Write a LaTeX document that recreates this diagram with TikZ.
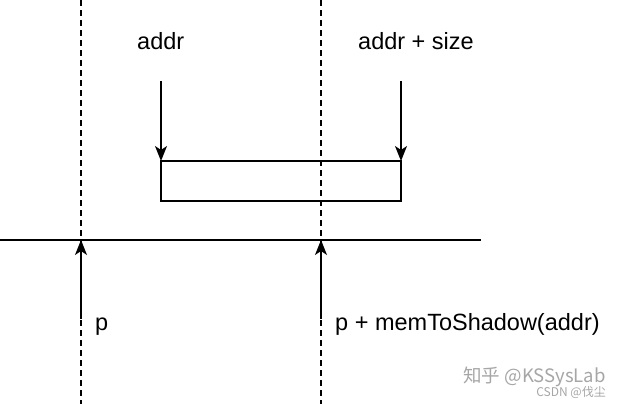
\documentclass[tikz,border=0pt]{standalone}
\usepackage{fontspec}
\setmainfont{Liberation Sans}
\newfontfamily\cjkfont{Noto Sans CJK SC}
\usetikzlibrary{arrows.meta, positioning}

\begin{document}
\begin{tikzpicture}[x=1pt, y=-1pt,
  guide/.style={dash pattern=on 6pt off 4pt, line width=1.6pt},
  ptr/.style={-{Stealth[length=15pt, width=12pt, inset=4pt]}, line width=1.6pt},
  lbl/.style={font=\fontsize{23.5}{28}\selectfont, inner sep=0pt, anchor=base west}]

\useasboundingbox (0,0) rectangle (622,404);

% lignes pointillées
\coordinate (gLtop) at (81,0);
\coordinate (gLbot) at (81,404);
\coordinate (gRtop) at (321,0);
\coordinate (gRbot) at (321,404);
\draw[guide] (gLtop) -- (gLbot);
\draw[guide] (gRtop) -- (gRbot);

% zone mémoire
\node[draw, line width=1.6pt, minimum width=240pt, minimum height=40pt, inner sep=0pt, outer sep=0pt, anchor=north west] (range) at (161,161) {};

% ligne de l'ombre
\coordinate (shL) at (0,240);
\coordinate (shR) at (481,240);
\draw[line width=1.6pt] (shL) -- (shR);

% étiquettes
\node[lbl] (addr) at (137,50) {addr};
\node[lbl] (addrsz) at (358,50) {addr + size};
\node[lbl] (p) at (95,330) {p};
\node[lbl] (pshadow) at (335,330) {p + memToShadow(addr)};

% flèches
\coordinate (addrStart) at (161,81);
\coordinate (addrszStart) at (401,81);
\coordinate (pStart) at (81,319);
\coordinate (pEnd) at (81,240);
\coordinate (psStart) at (321,319);
\coordinate (psEnd) at (321,240);
\draw[ptr] (addrStart) -- (range.north west);
\draw[ptr] (addrszStart) -- (range.north east);
\draw[ptr] (pStart) -- (pEnd);
\draw[ptr] (psStart) -- (psEnd);

% filigrane
\node[font=\cjkfont\fontsize{18.5}{21}\selectfont, text=black!35, inner sep=0pt, anchor=base east] (wm) at (606,382) {知乎 @KSSysLab};
\node[font=\cjkfont\fontsize{12}{14}\selectfont, text=black!35, inner sep=0pt, anchor=base east] (wm2) at (606,396) {CSDN @伐尘};
\end{tikzpicture}
\end{document}
